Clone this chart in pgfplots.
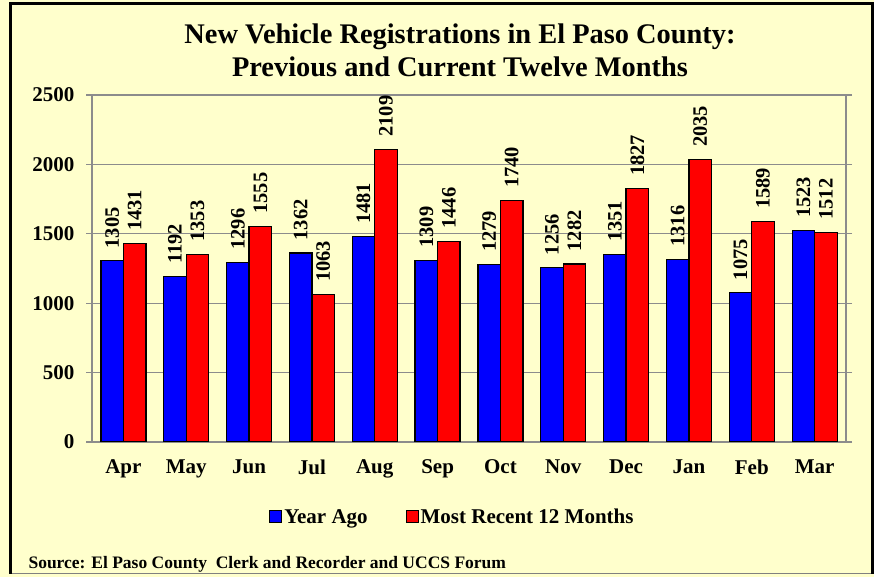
\documentclass[border=0pt]{standalone}
\usepackage{pgfplots}
\pgfplotsset{compat=1.18}
\usepackage{fontspec}
\setmainfont{Liberation Serif}
\definecolor{bg}{HTML}{FFFFCC}
\definecolor{gridgray}{HTML}{8C8C8C}
\definecolor{barblue}{HTML}{0000FF}
\definecolor{barred}{HTML}{FF0000}
\begin{document}
\begin{tikzpicture}[x=1bp,y=1bp]
\fill[bg] (0,0) rectangle (874,577);
\useasboundingbox (0,0) rectangle (874,577);
\draw[gray, line width=1bp] (10.5,3) -- (872,3);
\draw[line width=3bp] (10.5,3) -- (10.5,573) -- (872,573) -- (872,3);
\node[align=center, font=\fontsize{28.4bp}{33bp}\selectfont\bfseries] at (460,527)
  {New Vehicle Registrations in El Paso County:\\Previous and Current Twelve Months};
\node[anchor=west, font=\fontsize{17.5bp}{20bp}\selectfont\bfseries] at (25,13)
  {Source: El Paso County\ \ Clerk and Recorder and UCCS Forum};
\begin{axis}[
  at={(92bp,135bp)}, anchor=south west,
  scale only axis, width=754bp, height=347bp,
  ybar=0pt, bar width=22.5bp,
  xmin=-0.5, xmax=11.5, ymin=0, ymax=2500,
  ytick={0,500,...,2500},
  xtick={0,...,11},
  xticklabels={Apr,May,Jun,Jul,Aug,Sep,Oct,Nov,Dec,Jan,Feb,Mar},
  /pgf/number format/.cd, 1000 sep={}, assume math mode=true, /pgfplots/.cd,
  tick label style={font=\fontsize{21bp}{24bp}\selectfont\bfseries, text=black},
  xticklabel style={yshift=-8bp},
  yticklabel style={xshift=-8bp},
  axis line style={gridgray, line width=1.2bp},
  ymajorgrids, grid style={gridgray, line width=1.2bp},
  tick align=outside, major tick length=6bp,
  xtick style={draw=none},
  ytick style={gridgray, line width=1.2bp},
  axis background/.style={fill=bg},
  nodes near coords,
  every node near coord/.append style={font=\fontsize{20.5bp}{24bp}\selectfont\bfseries, rotate=90, anchor=west, inner xsep=12bp, inner ysep=0pt, text=black},
  legend style={at={(0.478,-0.216)}, anchor=center, draw=none, fill=none,
    font=\fontsize{21bp}{24bp}\selectfont\bfseries, legend columns=2,
    /tikz/every even column/.append style={column sep=36bp}},
]
\pgfplotsinvokeforeach{-0.5,0.5,1.5,2.5,3.5,4.5,5.5,6.5,7.5,8.5,9.5,10.5,11.5}{
  \draw[gridgray, line width=1.2bp] (axis cs:#1,0) -- ++(0,-6bp);
}
\addplot[fill=barblue, draw=black, line width=1.2bp,
  legend image code/.code={\draw[fill=barblue, draw=black, line width=1bp] (-4bp,-6bp) rectangle (8bp,6bp);}]
  coordinates {(0,1305) (1,1192) (2,1296) (3,1362) (4,1481) (5,1309) (6,1279) (7,1256) (8,1351) (9,1316) (10,1075) (11,1523)};
\addplot[fill=barred, draw=black, line width=1.2bp,
  legend image code/.code={\draw[fill=barred, draw=black, line width=1bp] (-4bp,-6bp) rectangle (8bp,6bp);}]
  coordinates {(0,1431) (1,1353) (2,1555) (3,1063) (4,2109) (5,1446) (6,1740) (7,1282) (8,1827) (9,2035) (10,1589) (11,1512)};
\legend{Year Ago, Most Recent 12 Months}
\end{axis}
\end{tikzpicture}
\end{document}
